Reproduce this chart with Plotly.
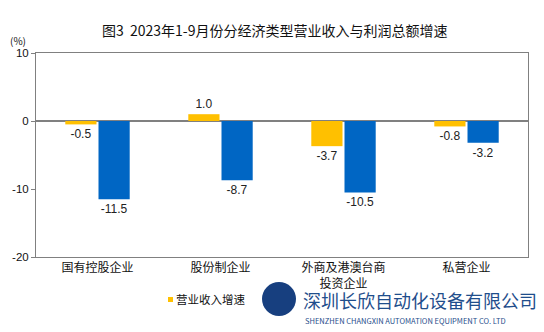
import plotly.graph_objects as go

categories = ["国有控股企业", "股份制企业", "外商及港澳台商<br>投资企业", "私营企业"]
revenue_growth = [-0.5, 1.0, -3.7, -0.8]
profit_growth = [-11.5, -8.7, -10.5, -3.2]
y_ticks = [10, 0, -10, -20]

title = "图3  2023年1-9月份分经济类型营业收入与利润总额增速"
font_cn = "Noto Sans CJK SC"
font_num = "Liberation Sans"

L, T, W, H = 36, 53, 492, 204


def px(x):
    return (x - L) / W


def py(y):
    return (T + H - y) / H


fig = go.Figure()
fig.add_trace(go.Bar(
    x=categories, y=revenue_growth, name="营业收入增速",
    marker=dict(color="#FFC000", line=dict(width=0)),
    texttemplate="%{y:.1f}", textposition="outside", cliponaxis=False,
    textfont=dict(family=font_num, size=12, color="#222"),
))
fig.add_trace(go.Bar(
    x=categories, y=profit_growth, name="利润总额增速",
    marker=dict(color="#0066C4", line=dict(width=0)),
    texttemplate="%{y:.1f}", textposition="outside", cliponaxis=False,
    textfont=dict(family=font_num, size=12, color="#222"),
))

fig.update_layout(
    width=544, height=332,
    margin=dict(l=L, r=544 - L - W, t=T, b=332 - T - H),
    paper_bgcolor="white", plot_bgcolor="white",
    barmode="group", bargap=0.46, bargroupgap=0.06,
    title=dict(text=title, x=0.505, xanchor="center", y=0.905, yanchor="middle",
               font=dict(family=font_cn, size=14, color="#111")),
    showlegend=False,
)
fig.update_xaxes(
    showline=True, mirror=True, linecolor="#808080", linewidth=1,
    ticks="", showgrid=False,
    tickfont=dict(family=font_cn, size=12, color="#111"),
)
fig.update_yaxes(
    range=[-20, 10], tickvals=y_ticks, ticktext=[str(v) for v in y_ticks],
    showline=True, mirror=True, linecolor="#808080", linewidth=1,
    ticks="outside", ticklen=4, tickcolor="#808080",
    showgrid=False, zeroline=True, zerolinecolor="#808080", zerolinewidth=1.5,
    layer="above traces",
    tickfont=dict(family=font_num, size=11.5, color="#111"),
)

fig.add_annotation(text="(%)", xref="paper", yref="paper", x=px(18), y=py(40),
                   xanchor="center", yanchor="middle", showarrow=False,
                   font=dict(family=font_cn, size=10, color="#111"))

# legend (manual, the second entry is hidden under the watermark in the reference)
fig.add_shape(type="rect", xref="paper", yref="paper",
              x0=px(168), x1=px(173), y0=py(302), y1=py(297),
              fillcolor="#FFC000", line=dict(width=0))
fig.add_annotation(text="营业收入增速", xref="paper", yref="paper",
                   x=px(174), y=py(299), xanchor="left", yanchor="middle",
                   showarrow=False, font=dict(family=font_cn, size=11.5, color="#111"))

# watermark
fig.add_shape(type="circle", xref="paper", yref="paper",
              x0=px(262), x1=px(296), y0=py(316), y1=py(282),
              fillcolor="#173F7F", line=dict(width=0))
fig.add_annotation(text="深圳长欣自动化设备有限公司", xref="paper", yref="paper",
                   x=px(301), y=py(300), xanchor="left", yanchor="middle",
                   showarrow=False, font=dict(family=font_cn, size=18, color="#1F4E8C"))
fig.add_annotation(text="SHENZHEN CHANGXIN AUTOMATION EQUIPMENT CO. LTD", xref="paper", yref="paper",
                   x=px(303), y=py(320), xanchor="left", yanchor="middle",
                   showarrow=False, font=dict(family=font_cn, size=7.5, color="#1F4E8C"))

fig.write_html("out.html")
